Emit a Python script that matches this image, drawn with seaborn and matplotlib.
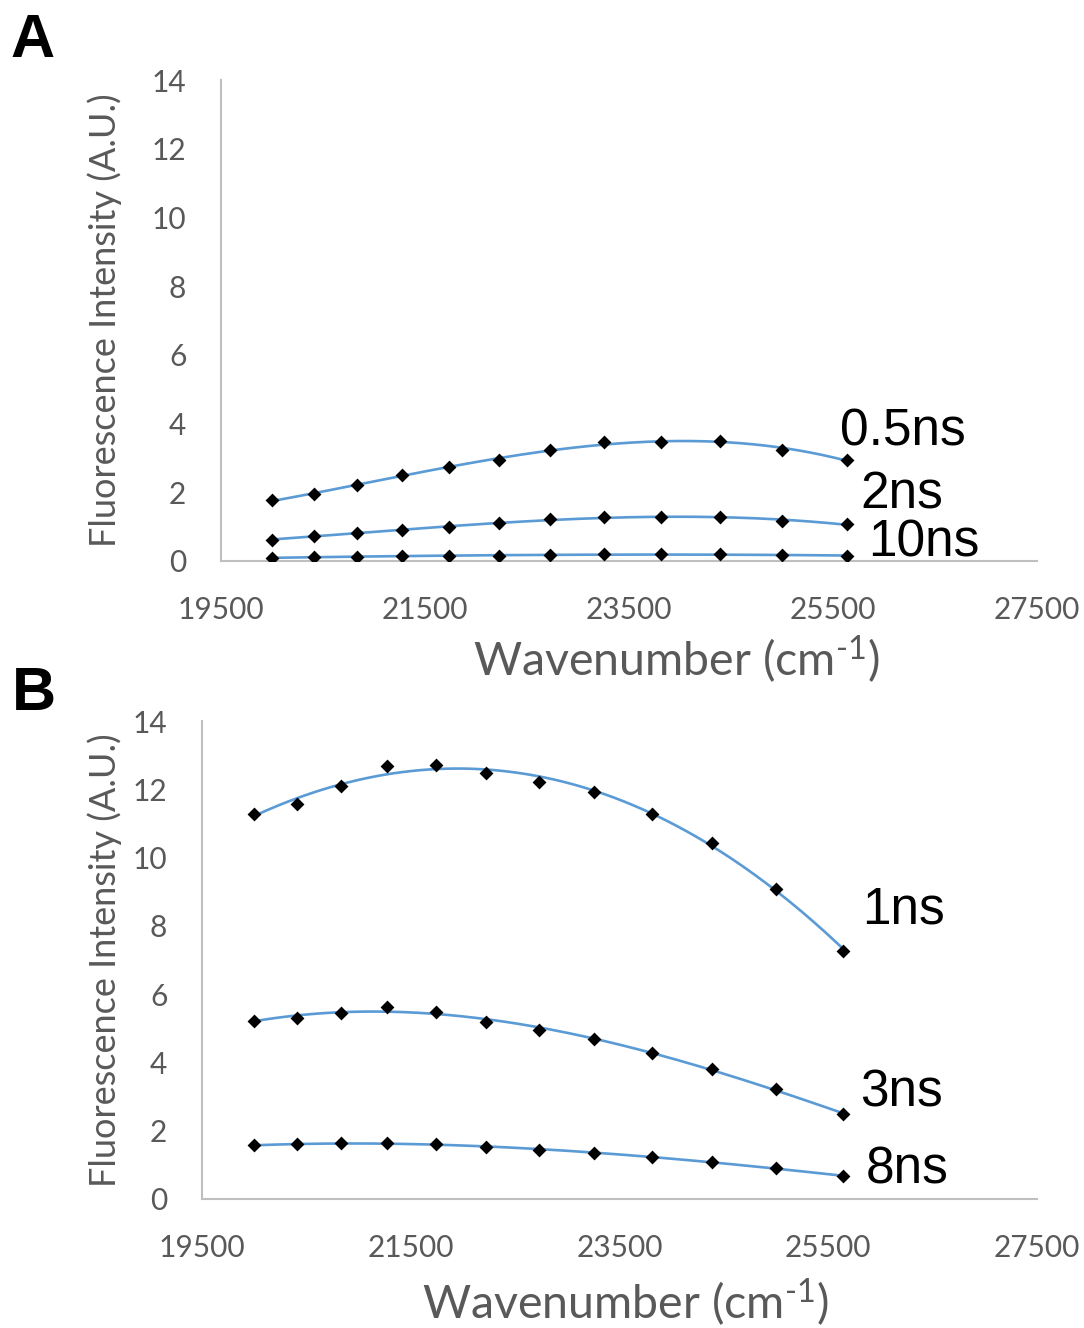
import numpy as np
import pandas as pd
import matplotlib
matplotlib.use("Agg")
import matplotlib.pyplot as plt
import seaborn as sns

# Emission wavenumbers (cm^-1), 500 nm down to 390 nm in 10 nm steps
wavenumber = [20000, 20408, 20833, 21277, 21739, 22222, 22727, 23256, 23810, 24390, 25000, 25641]

# Panel A: time-resolved intensities
a_05ns = [1.77, 1.94, 2.21, 2.50, 2.74, 2.95, 3.22, 3.46, 3.46, 3.49, 3.22, 2.95]
a_2ns = [0.62, 0.74, 0.81, 0.89, 1.00, 1.10, 1.22, 1.27, 1.28, 1.28, 1.17, 1.07]
a_10ns = [0.09, 0.11, 0.13, 0.15, 0.16, 0.16, 0.17, 0.19, 0.19, 0.19, 0.17, 0.16]

# Panel B: time-resolved intensities
b_1ns = [11.28, 11.57, 12.10, 12.67, 12.71, 12.49, 12.22, 11.93, 11.28, 10.42, 9.09, 7.27]
b_3ns = [5.22, 5.31, 5.46, 5.61, 5.47, 5.19, 4.96, 4.68, 4.29, 3.81, 3.21, 2.48]
b_8ns = [1.57, 1.60, 1.63, 1.64, 1.61, 1.52, 1.44, 1.35, 1.24, 1.08, 0.90, 0.67]

x_ticks = [19500, 21500, 23500, 25500, 27500]
y_ticks = [0, 2, 4, 6, 8, 10, 12, 14]

sns.set_theme(style="white")
plt.rcParams["font.family"] = ["Lato", "DejaVu Sans"]
plt.rcParams["mathtext.fontset"] = "custom"
plt.rcParams["mathtext.rm"] = "Lato"
plt.rcParams["mathtext.it"] = "Lato"
plt.rcParams["mathtext.default"] = "regular"

LINE = "#5B9BD5"
AXIS = "#BFBFBF"
TICK = "#595959"

fig = plt.figure(figsize=(10.84, 13.28), dpi=100)
ax_a = fig.add_axes([221 / 1084, 1 - 561 / 1328, 816 / 1084, 481 / 1328])
ax_b = fig.add_axes([202 / 1084, 1 - 1199 / 1328, 835 / 1084, 478 / 1328])


def trend(x, y, deg=3, n=200):
    xs = np.asarray(x, float)
    ys = np.asarray(y, float)
    c = (xs - xs.mean()) / 1000.0
    p = np.polyfit(c, ys, deg)
    xf = np.linspace(xs.min(), xs.max(), n)
    return xf, np.polyval(p, (xf - xs.mean()) / 1000.0)


def draw(ax, series, labels, xlab, ylab_x):
    for (name, vals), (lx, ly) in zip(series.items(), labels):
        xf, yf = trend(wavenumber, vals)
        sns.lineplot(x=xf, y=yf, ax=ax, color=LINE, linewidth=1.9, zorder=2)
        sns.scatterplot(x=wavenumber, y=vals, ax=ax, marker="D", s=50,
                        color="black", edgecolor="black", linewidth=0, zorder=3)
        ax.text(lx, ly, name, fontsize=37, family=["Liberation Sans", "DejaVu Sans"],
                color="black", va="center", ha="left", zorder=4)
    ax.set_xlim(19500, 27500)
    ax.set_ylim(0, 14)
    ax.set_xticks(x_ticks)
    ax.set_yticks(y_ticks)
    ax.tick_params(axis="both", length=0, labelsize=21.5, labelcolor=TICK)
    ax.tick_params(axis="x", pad=25)
    ax.tick_params(axis="y", pad=25)
    for s in ["top", "right"]:
        ax.spines[s].set_visible(False)
    for s in ["left", "bottom"]:
        ax.spines[s].set_color(AXIS)
        ax.spines[s].set_linewidth(1.5)
    ax.set_xlabel("Wavenumber (cm$^{\\text{-}1}$)", fontsize=33.5, color=TICK)
    ax.set_ylabel("Fluorescence Intensity (A.U.)", fontsize=26, color=TICK)
    ax.xaxis.set_label_coords(*xlab)
    ax.yaxis.set_label_coords(ylab_x, 0.5)
    ax.grid(False)


draw(ax_a, {"0.5ns": a_05ns, "2ns": a_2ns, "10ns": a_10ns},
     [(25570, 3.75), (25765, 1.92), (25843, 0.52)], (0.558, -0.150), -0.121)
draw(ax_b, {"1ns": b_1ns, "3ns": b_3ns, "8ns": b_8ns},
     [(25823, 8.47), (25804, 3.10), (25862, 0.85)], (0.507, -0.163), -0.096)

fig.text(10 / 1084, 1 - 57 / 1328, "A", fontsize=44, fontweight="bold",
         family=["Liberation Sans", "DejaVu Sans"], color="black", va="baseline")
fig.text(12 / 1084, 1 - 710 / 1328, "B", fontsize=44, fontweight="bold",
         family=["Liberation Sans", "DejaVu Sans"], color="black", va="baseline")

fig.savefig("out.png", dpi=100, facecolor="white")
